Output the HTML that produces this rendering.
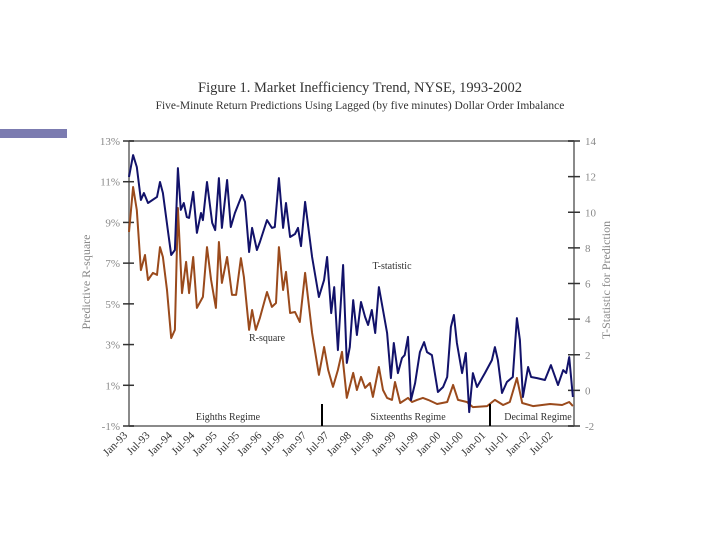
<!DOCTYPE html>
<html><head><meta charset="utf-8"><style>
html,body{margin:0;padding:0;background:#fff;}
svg{display:block;font-family:"Liberation Serif",serif;}
</style></head><body>
<svg id="chart" width="720" height="540" viewBox="0 0 720 540">
<rect x="0" y="129" width="67" height="9" fill="#7b7bb0"/>
<text x="360" y="92" text-anchor="middle" font-size="14.5" fill="#333">Figure 1. Market Inefficiency Trend, NYSE, 1993-2002</text>
<text x="360" y="109" text-anchor="middle" font-size="11.5" fill="#333">Five-Minute Return Predictions Using Lagged (by five minutes) Dollar Order Imbalance</text>
<g id="axes"></g>
<g id="series"></g>
<text x="392" y="269" text-anchor="middle" font-size="10" fill="#333">T-statistic</text>
<text x="267" y="341" text-anchor="middle" font-size="10" fill="#333">R-square</text>
<text x="228" y="420" text-anchor="middle" font-size="10" fill="#333">Eighths Regime</text>
<text x="408" y="420" text-anchor="middle" font-size="10" fill="#333">Sixteenths Regime</text>
<text x="538" y="420" text-anchor="middle" font-size="10" fill="#333">Decimal Regime</text>
<line x1="322" y1="404" x2="322" y2="426" stroke="#000" stroke-width="2"/>
<line x1="490" y1="404" x2="490" y2="426" stroke="#000" stroke-width="2"/>
<text transform="translate(90,282) rotate(-90)" text-anchor="middle" font-size="12" fill="#888">Predictive R-square</text>
<text transform="translate(610,280) rotate(-90)" text-anchor="middle" font-size="12" fill="#888">T-Statistic for Prediction</text>
</svg>
<script>
const leftTicks = [13, 11, 9, 7, 5, 3, 1, -1];
const rightTicks = [14, 12, 10, 8, 6, 4, 2, 0, -2];
const xLabels = ["Jan-93","Jul-93","Jan-94","Jul-94","Jan-95","Jul-95","Jan-96","Jul-96","Jan-97","Jul-97","Jan-98","Jul-98","Jan-99","Jul-99","Jan-00","Jul-00","Jan-01","Jul-01","Jan-02","Jul-02"];
const tMonths = [0,1.1,2.1,3.2,4.0,5.1,7.5,8.3,9.1,10.5,11.3,12.3,13.1,13.9,14.7,15.5,16.1,17.2,18.2,19.3,19.8,20.9,22.3,23.1,24.1,24.9,26.3,27.3,28.4,30.3,31.1,32.2,33.0,34.3,35.1,37.0,38.3,39.1,40.2,41.3,42.1,43.2,44.5,45.3,46.1,47.2,49.1,50.9,52.3,53.1,54.2,55.0,56.0,57.4,58.4,59.2,60.1,61.1,62.2,63.3,64.1,65.1,66.0,67.0,68.1,69.2,70.2,71.0,72.1,73.2,73.9,74.8,75.6,76.7,78.0,79.1,79.9,81.2,82.8,84.2,85.3,86.3,87.1,87.9,89.3,90.3,91.2,92.2,93.3,95.4,97.3,98.1,98.9,100.0,101.3,102.9,104.0,104.8,105.6,107.0,107.8,109.4,111.5,113.1,115.0,116.4,117.2,118.0,119.0];
const tValues = [11.98,13.21,12.54,10.69,11.08,10.52,10.86,11.70,11.08,8.84,7.60,7.88,12.48,10.13,10.52,9.73,9.68,11.14,8.84,9.96,9.56,11.70,9.40,9.00,11.92,9.12,11.81,9.17,9.96,10.97,10.58,7.77,9.12,7.88,8.33,9.56,9.12,9.17,11.92,9.12,10.52,8.61,8.78,9.12,8.10,10.58,7.49,5.24,6.20,7.49,4.34,5.80,2.26,7.04,1.54,2.43,5.07,3.11,4.96,4.12,3.67,4.51,3.22,5.80,4.51,3.22,0.69,2.66,0.97,1.82,1.98,3.0,-0.54,0.41,2.15,2.71,2.15,1.98,-0.09,0.19,0.75,3.56,4.23,2.66,0.97,2.10,-1.22,0.97,0.19,0.97,1.70,2.43,1.70,-0.15,0.47,0.75,4.06,2.83,-0.37,1.31,0.75,0.69,0.58,1.42,0.30,1.14,0.97,1.87,-0.37];
const rMonths = [0,1.1,2.1,3.2,4.3,5.1,6.4,7.5,8.3,9.1,10.2,11.3,12.3,13.1,14.2,15.3,16.1,17.2,18.2,19.8,20.9,22.0,23.3,24.1,24.9,26.3,27.6,28.7,30.0,30.8,32.2,33.0,34.0,35.1,37.0,38.3,39.4,40.2,41.3,42.1,43.2,44.5,45.8,47.2,49.1,50.9,52.3,53.4,54.7,56.0,57.1,58.4,60.1,61.1,62.2,63.3,64.6,65.4,67.0,68.1,69.2,70.5,71.3,72.7,74.8,75.9,77.2,78.8,80.2,82.6,85.3,86.9,88.2,90.6,92.2,96.0,98.1,100.3,102.1,104.0,105.4,108.3,112.9,116.1,118.0,119.0];
const rValues = [8.53,10.74,9.61,6.66,7.40,6.17,6.52,6.42,7.79,7.30,5.68,3.32,3.72,9.71,5.53,7.06,5.53,7.30,4.80,5.34,7.79,6.17,4.80,8.04,6.03,7.30,5.44,5.44,7.25,6.32,3.72,4.70,3.72,4.31,5.58,4.85,5.04,7.79,5.68,6.57,4.55,4.60,4.11,6.52,3.57,1.51,2.88,1.75,0.92,1.75,2.64,0.38,1.61,0.77,1.41,0.87,1.11,0.43,1.90,0.77,0.38,0.28,1.16,0.13,0.38,0.18,0.28,0.38,0.28,0.08,0.18,1.02,0.28,0.18,-0.07,-0.02,0.28,0.03,0.18,1.36,0.13,-0.02,0.08,0.03,0.18,-0.02];

const X0 = 129, X1 = 574, YT = 141, YB = 426;
const NS = "http://www.w3.org/2000/svg";
function xScale(m){ return X0 + m * (X1 - X0) / 119.3; }
function yLeft(v){ return YT + (13 - v) * (YB - YT) / 14; }
function yRight(t){ return YT + (14 - t) * (YB - YT) / 16; }
function mk(tag, attrs, parent){ const e = document.createElementNS(NS, tag); for (const k in attrs) e.setAttribute(k, attrs[k]); parent.appendChild(e); return e; }

const axes = document.getElementById('axes');
const ax = "#8a8a8a";
let l = mk('line', {x1:X0, y1:YT, x2:X1, y2:YT, stroke:ax, 'stroke-width':2}, axes);


l = mk('line', {x1:X0, y1:YB, x2:X1, y2:YB, stroke:ax, 'stroke-width':2}, axes);


l = mk('line', {x1:X0, y1:YT, x2:X0, y2:YB, stroke:ax, 'stroke-width':2}, axes);


l = mk('line', {x1:X1, y1:YT, x2:X1, y2:YB, stroke:ax, 'stroke-width':2}, axes);



leftTicks.forEach(v => {
  const y = yLeft(v);
  const t = mk('line', {x1:X0-6, y1:y, x2:X0+5, y2:y, stroke:'#333', 'stroke-width':1.5}, axes);
  
  
  const tx = mk('text', {x:X0-9, y:y+4, 'text-anchor':'end', 'font-size':11, fill:'#888'}, axes);
  tx.textContent = v + '%';
  
  
});
rightTicks.forEach(v => {
  const y = yRight(v);
  const t = mk('line', {x1:X1-6, y1:y, x2:X1+6, y2:y, stroke:'#333', 'stroke-width':1.5}, axes);
  
  
  const tx = mk('text', {x:X1+11, y:y+4, 'text-anchor':'start', 'font-size':11, fill:'#888'}, axes);
  tx.textContent = v;
  
  
});
xLabels.forEach((s, i) => {
  const x = xScale(i * 6) - 1, y = 436;
  const tx = mk('text', {x:x, y:y, 'text-anchor':'end', 'font-size':11, fill:'#333', transform:`rotate(-45 ${x} ${y})`}, axes);
  tx.textContent = s;
  
  
});

const series = document.getElementById('series');
const rPath = mk('polyline', {points: rMonths.map((m,i)=>xScale(m).toFixed(1)+','+yLeft(rValues[i]).toFixed(1)).join(' '), fill:'none', stroke:'#9a4a1c', 'stroke-width':2, 'stroke-linejoin':'round'}, series);


const tPath = mk('polyline', {points: tMonths.map((m,i)=>xScale(m).toFixed(1)+','+yRight(tValues[i]).toFixed(1)).join(' '), fill:'none', stroke:'#12126a', 'stroke-width':2, 'stroke-linejoin':'round'}, series);


</script>
</body></html>
